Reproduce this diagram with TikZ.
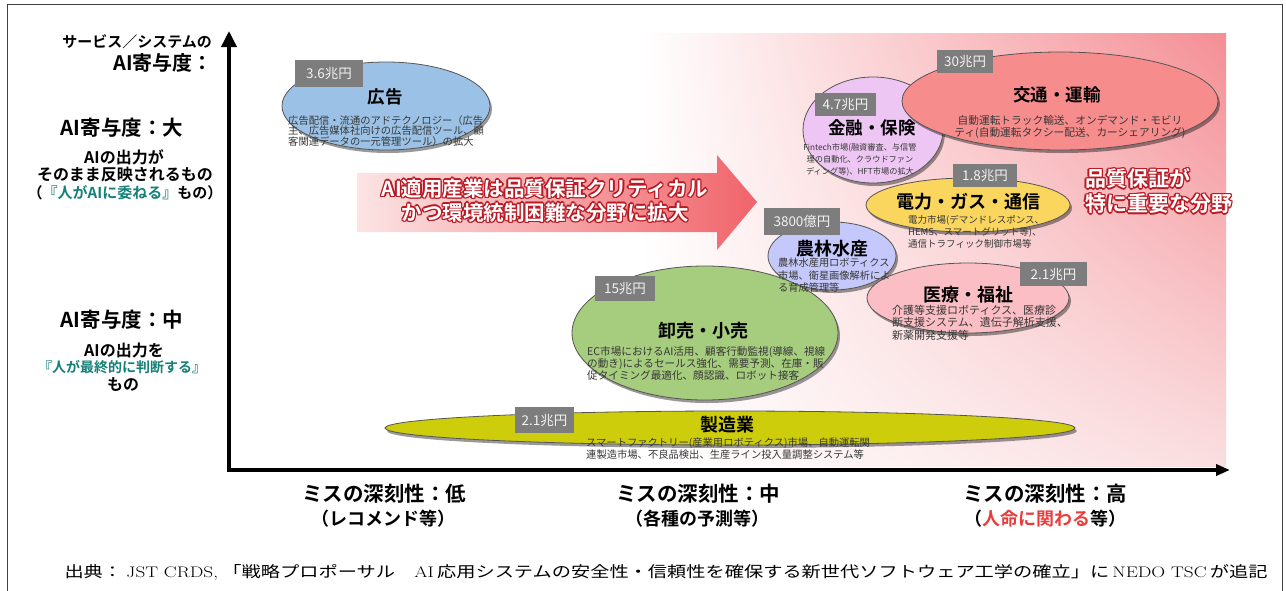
\documentclass[tikz,border=0pt]{standalone}
\usepackage{fontspec}
\setmainfont{Noto Sans CJK JP}[BoldFont={Noto Sans CJK JP Bold}]
\newfontfamily\lmr{Latin Modern Roman}
\usepackage{graphicx}
\usetikzlibrary{shapes.geometric,shadows,shadings,arrows.meta}
\definecolor{bgTR}{RGB}{244,142,148}
\definecolor{bgBR}{RGB}{250,222,224}
\definecolor{arrL}{RGB}{252,228,228}
\definecolor{arrR}{RGB}{240,100,106}
\definecolor{glowc}{RGB}{185,25,35}
\definecolor{tealc}{RGB}{20,128,120}
\definecolor{redc}{RGB}{235,60,60}
\definecolor{tagc}{RGB}{125,125,125}
\definecolor{descc}{RGB}{55,55,55}
\definecolor{edgec}{RGB}{85,85,85}
\definecolor{adC}{RGB}{155,194,230}
\definecolor{finC}{RGB}{238,198,244}
\definecolor{traC}{RGB}{247,140,140}
\definecolor{powC}{RGB}{250,214,95}
\definecolor{agrC}{RGB}{196,200,250}
\definecolor{medC}{RGB}{250,190,196}
\definecolor{retC}{RGB}{166,204,126}
\definecolor{mfgC}{RGB}{205,205,12}
\newcommand\setfs[2]{\fontsize{#1pt}{#2pt}\selectfont}
\newcommand\glow[1]{\setbox0=\hbox{#1}%
 \rlap{\color{glowc}\kern1.4pt\copy0}%
 \rlap{\color{glowc}\kern-1.4pt\copy0}%
 \rlap{\color{glowc}\raise1.4pt\copy0}%
 \rlap{\color{glowc}\lower1.4pt\copy0}%
 \rlap{\color{glowc}\kern1pt\raise1pt\copy0}%
 \rlap{\color{glowc}\kern-1pt\raise1pt\copy0}%
 \rlap{\color{glowc}\kern1pt\lower1pt\copy0}%
 \rlap{\color{glowc}\kern-1pt\lower1pt\copy0}%
 {\color{white}\copy0}}
\tikzset{
 ell/.style={ellipse, draw=edgec, line width=0.8pt, inner sep=0pt,
   drop shadow={shadow xshift=2pt, shadow yshift=-3pt, opacity=0.4, fill=black}},
 tag/.style 2 args={fill=tagc, text=white!95!black, inner sep=0pt, minimum width=#1, minimum height=#2, font=\setfs{13.5}{15}},
 ttl/.style={inner sep=0pt, font=\bfseries\setfs{17.5}{20}, text=black},
 desc/.style={inner sep=0pt, align=left, anchor=north west, text=descc},
 axis/.style={line width=3.6pt, -{Triangle[length=16pt,width=15pt]}},
 frame/.style={draw=black!75, line width=0.8pt},
 lab/.style={inner sep=0pt, font=\bfseries, text=black},
}
\begin{document}
\begin{tikzpicture}[x=1pt,y=-1pt]
\useasboundingbox (0,0) rectangle (1286,590);
\fill[white] (0,0) rectangle (1286,590);
\draw[frame] (7.5,595) -- (7.5,4.5) -- (1282.5,4.5) -- (1282.5,595);
% background
\shade[upper left=white, lower left=white, upper right=bgTR, lower right=bgBR] (640,33) rectangle (1226,466);
% big arrow
\shade[left color=arrL, right color=arrR] (357,173) -- (717,173) -- (717,155) -- (757,202) -- (717,250) -- (717,232) -- (357,232) -- cycle;
% axes
\coordinate (O) at (229,472);
\coordinate (ytip) at (229,31);
\coordinate (xs) at (227,470);
\coordinate (xtip) at (1230,470);
\draw[axis] (O) -- (ytip);
\draw[axis, -{Triangle[length=14pt,width=11pt]}] (xs) -- (xtip);
% ellipses
\node[ell, fill=adC, minimum width=208pt, minimum height=88pt] (ad) at (386,106) {};
\node[ell, fill=finC, minimum width=140pt, minimum height=106pt] (fin) at (873,130) {};
\node[ell, fill=traC, minimum width=316pt, minimum height=98pt] (tra) at (1060,101) {};
\node[ell, fill=powC, minimum width=204pt, minimum height=54pt] (pow) at (968,205) {};
\node[ell, fill=agrC, minimum width=128pt, minimum height=68pt] (agr) at (832,256) {};
\node[ell, fill=medC, minimum width=202pt, minimum height=70pt] (med) at (968,298) {};
\node[ell, fill=retC, minimum width=266pt, minimum height=134pt] (ret) at (705,333) {};
\node[ell, fill=mfgC, minimum width=690pt, minimum height=34pt] (mfg) at (730,428) {};
% tags
\node[tag={68pt}{27pt}] (adT) at (329,73.5) {3.6兆円};
\node[tag={61pt}{23pt}] (finT) at (845.5,104.5) {4.7兆円};
\node[tag={56pt}{23pt}] (traT) at (965,61.5) {30兆円};
\node[tag={64pt}{23pt}] (powT) at (985,175.5) {1.8兆円};
\node[tag={76pt}{27pt}] (agrT) at (802,221.5) {3800億円};
\node[tag={67pt}{24pt}] (medT) at (1053.5,274) {2.1兆円};
\node[tag={60pt}{25pt}] (retT) at (625,288.5) {15兆円};
\node[tag={59pt}{26pt}] (mfgT) at (544.5,420) {2.1兆円};
% titles
\node[ttl] (adN) at (385,97) {広告};
\node[ttl] (finN) at (872,128) {金融・保険};
\node[ttl] (traN) at (1057,95) {交通・運輸};
\node[ttl, font=\bfseries\setfs{18}{20}] (powN) at (968,202) {電力・ガス・通信};
\node[ttl, font=\bfseries\setfs{18}{20}] (agrN) at (832,249) {農林水産};
\node[ttl, font=\bfseries\setfs{18}{20}] (medN) at (968,295) {医療・福祉};
\node[ttl, font=\bfseries\setfs{18}{20}] (retN) at (703,331) {卸売・小売};
\node[ttl, font=\bfseries\setfs{18}{20}] (mfgN) at (727,425) {製造業};
% descriptions
\node[desc, font=\setfs{10.3}{9.6}] (adD) at (288,115) {広告配信・流通のアドテクノロジー（広告\\主、広告媒体社向けの広告配信ツール、顧\\客関連データの一元管理ツール）の拡大};
\node[desc, align=center, anchor=north, font=\setfs{8.2}{12}] (finD) at (860,143) {Fintech市場(融資審査、与信管\\理の自動化、クラウドファン\\ディング等)、HFT市場の拡大};
\node[desc, align=center, anchor=north, font=\setfs{10.7}{12}] (traD) at (1070,115.5) {自動運転トラック輸送、オンデマンド・モビリ\\ティ(自動運転タクシー配送、カーシェアリング)};
\node[desc, font=\setfs{9.5}{12}] (powD) at (908,215) {電力市場(デマンドレスポンス、\\HEMS、スマートグリット等)、\\通信トラフィック制御市場等};
\node[desc, font=\setfs{10.2}{12.5}] (agrD) at (778,258) {農林水産用ロボティクス\\市場、衛星画像解析によ\\る育成管理等};
\node[desc, font=\setfs{11}{12.5}] (medD) at (892,304.5) {介護等支援ロボティクス、医療診\\断支援システム、遺伝子解析支援、\\新薬開発支援等};
\node[desc, font=\setfs{10.6}{11.7}] (retD) at (587,346.7) {EC市場におけるAI活用、顧客行動監視(導線、視線\\の動き)によるセールス強化、需要予測、在庫・販\\促タイミング最適化、顔認識、ロボット接客};
\node[desc, font=\setfs{10.3}{12.5}] (mfgD) at (586,437.5) {スマートファクトリー(産業用ロボティクス)市場、自動運転関\\連製造市場、不良品検出、生産ライン投入量調整システム等};
% arrow text
\node[inner sep=0pt, align=center, font=\bfseries\setfs{20.5}{24}] (arrT) at (545,200.5) {\glow{AI適用産業は品質保証クリティカル}\\\glow{かつ環境統制困難な分野に拡大}};
\node[inner sep=0pt, align=left, anchor=north west, font=\bfseries\setfs{21}{25}] (qa) at (1085,167) {\glow{品質保証が}\\\glow{特に重要な分野}};
% y-axis labels
\node[lab, anchor=east, font=\bfseries\setfs{15}{18}] (y1) at (212,42) {サービス／システムの};
\node[lab, anchor=east, font=\bfseries\setfs{20}{22}] (y2) at (213,63) {AI寄与度：};
\node[lab, font=\bfseries\setfs{20.5}{22}] (y3) at (122,128) {AI寄与度：大};
\node[lab, font=\bfseries\setfs{16}{18}] (y4) at (124,157) {AIの出力が};
\node[lab, font=\bfseries\setfs{16}{18}] (y5) at (125,175) {そのまま反映されるもの};
\node[lab, font=\bfseries\setfs{15}{18}] (y6) at (125,193) {（\textcolor{tealc}{『人がAIに委ねる』}もの）};
\node[lab, font=\bfseries\setfs{20.5}{22}] (y7) at (122,320) {AI寄与度：中};
\node[lab, font=\bfseries\setfs{16}{18}] (y8) at (124,350) {AIの出力を};
\node[lab, font=\bfseries\setfs{14}{18}, text=tealc] (y9) at (122,367) {『人が最終的に判断する』};
\node[lab, font=\bfseries\setfs{16}{18}] (y10) at (123,385) {もの};
% x-axis labels
\node[lab, font=\bfseries\setfs{20.5}{22}] (x1) at (384,494) {ミスの深刻性：低};
\node[lab, font=\bfseries\setfs{18}{20}] (x1b) at (383,519) {（レコメンド等）};
\node[lab, font=\bfseries\setfs{20.5}{22}] (x2) at (698,494) {ミスの深刻性：中};
\node[lab, font=\bfseries\setfs{18}{20}] (x2b) at (697,519) {（各種の予測等）};
\node[lab, font=\bfseries\setfs{20.5}{22}] (x3) at (1045,494) {ミスの深刻性：高};
\node[lab, font=\bfseries\setfs{18}{20}] (x3b) at (1045,519) {（\textcolor{redc}{人命に関わる}等）};
% caption
\node[inner sep=0pt, font=\setfs{15}{17}] (cap) at (666,572) {\resizebox{1203pt}{13pt}{出典：\ {\lmr JST CRDS,} 「戦略プロポーサル　{\lmr AI}\,応用システムの安全性・信頼性を確保する新世代ソフトウェア工学の確立」に\,{\lmr NEDO TSC}\,が追記}};
\end{tikzpicture}
\end{document}
